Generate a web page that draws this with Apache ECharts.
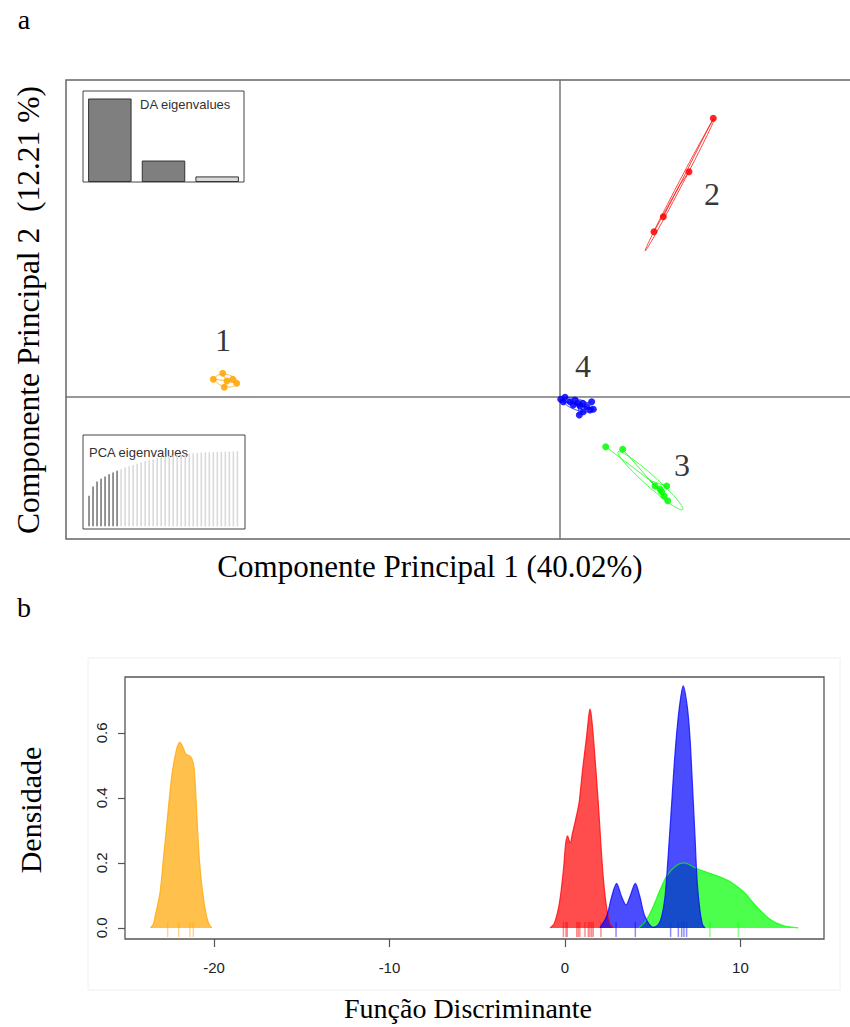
<!DOCTYPE html>
<html>
<head>
<meta charset="utf-8">
<script src="https://cdn.jsdelivr.net/npm/echarts@6/dist/echarts.min.js"></script>
<style>
html, body { margin: 0; background: #fff; }
#chart { width: 850px; height: 1027px; }
</style>
</head>
<body>
<div id="chart"></div>
<script>
// panel a: discriminant scores of each group (LD1, LD2)
var group1 = [[-34.67, 1.77], [-33.73, 2.37], [-33.57, 0.97], [-32.73, 1.77], [-32.33, 1.37], [-33.3, 1.6]];
var group2 = [[15.33, 27.87], [12.9, 22.53], [10.33, 18.03], [9.4, 16.53]];
var group3 = [[4.57, -4.97], [6.27, -5.23], [9.5, -8.9], [10.67, -8.9], [10.17, -9.47], [10.4, -9.9], [10.77, -10.37], [10.0, -9.23]];
var group4 = [[0.07, -0.23], [0.33, -0.47], [0.5, -0.03], [1.0, -0.47], [1.5, -0.3], [1.83, -0.63], [2.0, -0.9], [1.93, -1.8],
              [2.33, -1.47], [2.67, -0.97], [3.17, -0.47], [3.33, -1.23], [3.0, -1.3], [2.27, -0.63], [1.33, -0.8]];
var groupNames = ['1', '2', '3', '4'];
var groupLabelAt = [[-33.7, 5.7], [15.2, 20.3], [12.2, -6.8], [2.3, 3.1]];

// inset eigenvalues
var daEigen = [100, 25.7, 6.7];
var daKept = 2;
var pcaEigen = [92, 120, 135, 143, 150, 157, 162, 167, 172, 177, 181, 185, 189, 193, 196, 199, 202, 205, 208, 210,
                212, 214, 216, 217, 218, 219, 220, 221, 222, 222.5, 223, 223.5, 224, 224.5, 225, 225, 225.5, 226];
var pcaKept = 8;

// panel b: densities along the discriminant function
var dens1 = [[-23.62, 0], [-23.45, 0.012], [-23.36, 0.035], [-23.08, 0.107], [-22.89, 0.209], [-22.7, 0.312], [-22.41, 0.466],
             [-22.13, 0.55], [-21.94, 0.571], [-21.8, 0.56], [-21.6, 0.535], [-21.4, 0.53], [-21.25, 0.52], [-21.12, 0.486],
             [-20.99, 0.363], [-20.83, 0.209], [-20.64, 0.107], [-20.42, 0.035], [-20.25, 0.008], [-20.13, 0]];
var dens2 = [[-0.85, 0], [-0.61, 0.014], [-0.32, 0.076], [-0.09, 0.178], [0.04, 0.26], [0.15, 0.283], [0.22, 0.272], [0.3, 0.262],
             [0.42, 0.29], [0.6, 0.332], [0.8, 0.384], [1.0, 0.486], [1.23, 0.589], [1.36, 0.655], [1.42, 0.673], [1.5, 0.655],
             [1.65, 0.568], [1.9, 0.384], [2.15, 0.178], [2.34, 0.076], [2.56, 0.014], [2.75, 0]];
var dens3 = [[4.2, 0], [4.5, 0.015], [4.8, 0.04], [5.1, 0.075], [5.4, 0.115], [5.8, 0.16], [6.3, 0.19], [6.78, 0.2], [7.5, 0.183],
             [8.26, 0.168], [9.02, 0.153], [9.4, 0.143], [10.16, 0.112], [10.92, 0.066], [11.68, 0.027], [12.44, 0.007], [13.3, 0]];
var dens4 = [[1.99, 0], [2.37, 0.035], [2.66, 0.096], [2.94, 0.137], [3.23, 0.096], [3.48, 0.071], [3.7, 0.096], [4.01, 0.137],
             [4.27, 0.096], [4.56, 0.035], [5.03, 0.002], [5.32, 0.01], [5.51, 0.035], [5.7, 0.096], [5.89, 0.23], [6.08, 0.384],
             [6.27, 0.537], [6.5, 0.671], [6.74, 0.745], [6.97, 0.681], [7.12, 0.589], [7.27, 0.435], [7.41, 0.281], [7.54, 0.137],
             [7.69, 0.055], [7.84, 0.01], [7.98, 0]];
var rug1 = [-22.64, -22.01, -21.37, -21.18];
var rug2 = [-0.09, 0.06, 0.13, 0.67, 0.76, 0.85, 1.14, 1.33, 1.42, 1.52, 1.61, 2.05];
var rug3 = [8.26, 9.88];
var rug4 = [2.91, 4.01, 6.02, 6.46, 6.65, 6.78, 6.93];
var densTicks = [0, 0.2, 0.4, 0.6];
var ldTicks = [-20, -10, 0, 10];

var groupColors = ['#FFA500', '#FF0000', '#00FF00', '#0000FF'];
var groups = [group1, group2, group3, group4];
var serif = 'Liberation Serif, Times New Roman, serif';
var sans = 'Liberation Sans, Arial, sans-serif';

// centroid and 1.5 sd ellipse of a group
function groupStats(pts) {
  var n = pts.length, mx = 0, my = 0, sxx = 0, syy = 0, sxy = 0;
  pts.forEach(function (p) { mx += p[0] / n; my += p[1] / n; });
  pts.forEach(function (p) {
    var dx = p[0] - mx, dy = p[1] - my;
    sxx += dx * dx / n; syy += dy * dy / n; sxy += dx * dy / n;
  });
  var half = (sxx + syy) / 2;
  var d = Math.sqrt((sxx - syy) * (sxx - syy) / 4 + sxy * sxy);
  return {
    cx: mx, cy: my,
    r1: 1.5 * Math.sqrt(half + d),
    r2: 1.5 * Math.sqrt(Math.max(half - d, 0)),
    theta: 0.5 * Math.atan2(2 * sxy, sxx - syy)
  };
}

function renderGroup(params, api) {
  var g = api.value(0);
  var pts = groups[g];
  var s = groupStats(pts);
  var c = api.coord([s.cx, s.cy]);
  var style = { stroke: groupColors[g], lineWidth: 0.9, opacity: 0.8, fill: 'none' };
  var children = [];
  pts.forEach(function (p) {
    var q = api.coord(p);
    children.push({ type: 'line', shape: { x1: c[0], y1: c[1], x2: q[0], y2: q[1] }, style: style });
  });
  var ring = [];
  for (var k = 0; k <= 90; k++) {
    var t = k / 90 * 2 * Math.PI;
    var x = s.cx + s.r1 * Math.cos(t) * Math.cos(s.theta) - s.r2 * Math.sin(t) * Math.sin(s.theta);
    var y = s.cy + s.r1 * Math.cos(t) * Math.sin(s.theta) + s.r2 * Math.sin(t) * Math.cos(s.theta);
    ring.push(api.coord([x, y]));
  }
  children.push({ type: 'polyline', shape: { points: ring }, style: style });
  return { type: 'group', children: children };
}

var series = [];

series.push({
  type: 'custom', xAxisIndex: 0, yAxisIndex: 0, silent: true,
  data: groups.map(function (p, i) { return [i, 0]; }),
  encode: { x: 0, y: 1 },
  renderItem: renderGroup
});

groups.forEach(function (pts, i) {
  series.push({
    type: 'scatter', xAxisIndex: 0, yAxisIndex: 0, silent: true,
    symbolSize: 7, data: pts,
    itemStyle: { color: groupColors[i], opacity: 0.85 }
  });
});

series.push({
  type: 'scatter', xAxisIndex: 0, yAxisIndex: 0, silent: true,
  symbolSize: 1, itemStyle: { color: 'transparent' },
  data: groupLabelAt.map(function (p, i) { return { value: p, name: groupNames[i] }; }),
  label: { show: true, position: 'inside', formatter: '{b}', fontFamily: serif, fontSize: 32, color: '#000' }
});

series.push({
  type: 'bar', xAxisIndex: 1, yAxisIndex: 1, silent: true, barCategoryGap: '19%',
  data: daEigen.map(function (v, i) {
    return { value: v, itemStyle: { color: i < daKept ? '#7f7f7f' : '#d9d9d9', borderColor: '#333', borderWidth: 1 } };
  })
});

series.push({
  type: 'bar', xAxisIndex: 2, yAxisIndex: 2, silent: true, barWidth: 1.6,
  data: pcaEigen.map(function (v, i) {
    return { value: [i + 1, v], itemStyle: { color: i < pcaKept ? '#7a7a7a' : '#dadada' } };
  })
});

[dens1, dens2, dens3, dens4].forEach(function (d, i) {
  series.push({
    type: 'line', xAxisIndex: 3, yAxisIndex: 3, silent: true,
    data: d, showSymbol: false, smooth: 0.3,
    lineStyle: { color: groupColors[i], width: 1.2, opacity: 0.75 },
    areaStyle: { color: groupColors[i], opacity: 0.7 }
  });
});

[rug1, rug2, rug3, rug4].forEach(function (r, i) {
  series.push({
    type: 'scatter', xAxisIndex: 3, yAxisIndex: 3, silent: true,
    symbol: 'rect', symbolSize: [1.5, 15],
    data: r.map(function (v) { return [v, -0.005]; }),
    itemStyle: { color: groupColors[i], opacity: 0.45 }
  });
});

var hidden = { show: false };

option = {
  backgroundColor: '#fff',
  animation: false,
  grid: [
    { left: 66, top: 80, width: 804, height: 459, show: true, borderColor: '#666', borderWidth: 1.5, outerBoundsMode: 'none' },
    { left: 83, top: 91, width: 161, height: 91, show: true, borderColor: '#444', borderWidth: 1, outerBoundsMode: 'none' },
    { left: 83, top: 435, width: 162, height: 94, show: true, borderColor: '#444', borderWidth: 1, outerBoundsMode: 'none' },
    { left: 125, top: 677, width: 699, height: 262, show: true, borderColor: '#555', borderWidth: 1.3, outerBoundsMode: 'none' }
  ],
  xAxis: [
    { gridIndex: 0, type: 'value', min: -49.4, max: 31.0,
      axisLine: { show: true, onZero: true, lineStyle: { color: '#777', width: 1.5 } },
      axisTick: hidden, axisLabel: hidden, splitLine: hidden },
    { gridIndex: 1, type: 'category', data: ['1', '2', '3'], show: false },
    { gridIndex: 2, type: 'value', min: -0.5, max: 39.9, show: false, splitLine: hidden },
    { gridIndex: 3, type: 'value', min: -25.07, max: 14.76,
      axisLine: { show: false, onZero: false }, splitLine: hidden,
      axisTick: { show: true, length: 8, customValues: ldTicks, lineStyle: { color: '#555', width: 1.2 } },
      axisLabel: { customValues: ldTicks, margin: 21, color: '#222', fontFamily: sans, fontSize: 15 } }
  ],
  yAxis: [
    { gridIndex: 0, type: 'value', min: -14.2, max: 31.7,
      axisLine: { show: true, onZero: true, lineStyle: { color: '#777', width: 1.5 } },
      axisTick: hidden, axisLabel: hidden, splitLine: hidden },
    { gridIndex: 1, type: 'value', min: 0, max: 109, show: false, splitLine: hidden },
    { gridIndex: 2, type: 'value', min: -8, max: 275, show: false, splitLine: hidden },
    { gridIndex: 3, type: 'value', min: -0.034, max: 0.772,
      axisLine: { show: false, onZero: false }, splitLine: hidden,
      axisTick: { show: true, length: 7, customValues: densTicks, lineStyle: { color: '#555', width: 1.2 } },
      axisLabel: { customValues: densTicks, rotate: 90, margin: 16, color: '#222', fontFamily: sans, fontSize: 15,
                   formatter: function (v) { return v.toFixed(1); } } }
  ],
  graphic: [
    { type: 'rect', shape: { x: 88, y: 658, width: 752, height: 332 }, style: { fill: 'none', stroke: '#f0f0f0', lineWidth: 1 }, silent: true },
    { type: 'text', x: 24, y: 19, style: { text: 'a', font: '28px ' + serif, fill: '#000', align: 'center', verticalAlign: 'middle' } },
    { type: 'text', x: 24, y: 607, style: { text: 'b', font: '28px ' + serif, fill: '#000', align: 'center', verticalAlign: 'middle' } },
    { type: 'text', x: 430, y: 566, style: { text: 'Componente Principal 1 (40.02%)', font: '31px ' + serif, fill: '#000', align: 'center', verticalAlign: 'middle' } },
    { type: 'text', x: 28, y: 310, rotation: Math.PI / 2, style: { text: 'Componente Principal 2  (12.21 %)', font: '31.5px ' + serif, fill: '#000', align: 'center', verticalAlign: 'middle' } },
    { type: 'text', x: 30, y: 810, rotation: Math.PI / 2, style: { text: 'Densidade', font: '30px ' + serif, fill: '#000', align: 'center', verticalAlign: 'middle' } },
    { type: 'text', x: 468, y: 1008, style: { text: 'Função Discriminante', font: '28px ' + serif, fill: '#000', align: 'center', verticalAlign: 'middle' } },
    { type: 'text', x: 140, y: 104, style: { text: 'DA eigenvalues', font: '13px ' + sans, fill: '#333', align: 'left', verticalAlign: 'middle' } },
    { type: 'text', x: 89, y: 452, style: { text: 'PCA eigenvalues', font: '13px ' + sans, fill: '#333', align: 'left', verticalAlign: 'middle' } }
  ],
  series: series
};

var chart = echarts.init(document.getElementById('chart'), null, { renderer: 'svg' });
chart.setOption(option);
</script>
</body>
</html>
